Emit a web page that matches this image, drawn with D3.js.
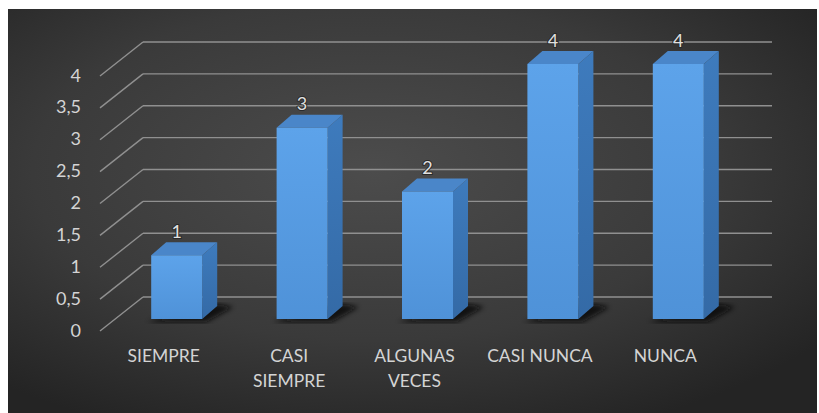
<!DOCTYPE html>
<html><head><meta charset="utf-8">
<script src="https://cdn.jsdelivr.net/npm/d3@7"></script>
<style>html,body{margin:0;padding:0;background:#fff;}svg{display:block;}</style>
</head><body>
<svg id="c" width="819" height="413"></svg>
<script>
const categories = ["SIEMPRE", "CASI SIEMPRE", "ALGUNAS VECES", "CASI NUNCA", "NUNCA"];
const labelLines = [["SIEMPRE"], ["CASI", "SIEMPRE"], ["ALGUNAS", "VECES"], ["CASI NUNCA"], ["NUNCA"]];
const values = [1, 3, 2, 4, 4];
const yTicks = [0, 0.5, 1, 1.5, 2, 2.5, 3, 3.5, 4];
const yTickLabels = ["0", "0,5", "1", "1,5", "2", "2,5", "3", "3,5", "4"];

const svg = d3.select("#c");
const defs = svg.append("defs");
const rg = defs.append("radialGradient").attr("id", "bg").attr("cx", "0.45").attr("cy", "0.4").attr("r", "0.7");
rg.append("stop").attr("offset", "0").attr("stop-color", "#4c4c4c");
rg.append("stop").attr("offset", "0.6").attr("stop-color", "#3a3a3a");
rg.append("stop").attr("offset", "1").attr("stop-color", "#242424");
const fg = defs.append("linearGradient").attr("id", "front").attr("x1", 0).attr("y1", 0).attr("x2", 0).attr("y2", 1);
fg.append("stop").attr("offset", "0").attr("stop-color", "#5da3ea");
fg.append("stop").attr("offset", "1").attr("stop-color", "#4f92d8");
const sg = defs.append("linearGradient").attr("id", "side").attr("x1", 0).attr("y1", 0).attr("x2", 0).attr("y2", 1);
sg.append("stop").attr("offset", "0").attr("stop-color", "#3e7bbd");
sg.append("stop").attr("offset", "1").attr("stop-color", "#346aa6");
defs.append("filter").attr("id", "blur").append("feGaussianBlur").attr("stdDeviation", 2.5);

svg.append("rect").attr("x", 8).attr("y", 9).attr("width", 809).attr("height", 404).attr("fill", "url(#bg)");

const y = d3.scaleLinear().domain([0, 4]).range([319, 64]);
const x = d3.scaleBand().domain(categories).range([114, 741]);
const backShift = 22, sideDX = 43, sideDY = 34;
const wallLeft = 143, wallRight = 772;
const depthX = 15, depthY = 13, barW = 51;

// gridlines
const grid = svg.append("g").attr("stroke", "#909090").attr("stroke-width", 1.4).attr("fill", "none");
yTicks.forEach(v => {
  const yb = y(v) - backShift;
  grid.append("line").attr("x1", wallLeft).attr("x2", wallRight).attr("y1", yb).attr("y2", yb);
  grid.append("line").attr("x1", wallLeft - sideDX).attr("y1", yb + sideDY).attr("x2", wallLeft).attr("y2", yb);
});

// tick labels
svg.append("g").selectAll("text").data(yTicks).join("text")
  .attr("x", 81).attr("y", v => y(v) - backShift + sideDY + 1)
  .attr("text-anchor", "end").attr("dominant-baseline", "middle")
  .attr("font-family", "Lato, 'Open Sans', sans-serif").attr("font-size", 18)
  .attr("fill", "#d4d4d4")
  .text((v, i) => yTickLabels[i]);

// bars
const bars = svg.append("g").selectAll("g").data(categories).join("g");
bars.each(function (c, i) {
  const g = d3.select(this);
  const cx = x(c) + x.bandwidth() / 2;
  const l = cx - barW / 2, r = cx + barW / 2;
  const t = y(values[i]), b = y(0);
  g.append("path").attr("filter", "url(#blur)").attr("fill", "#0a0a0a").attr("opacity", 0.9)
    .attr("d", `M${l - 4},${b + 3} L${r + 4},${b + 3} L${r + depthX + 16},${b - depthY + 1} L${r + depthX},${b - depthY - 2} Z`);
  g.append("path").attr("fill", "url(#side)")
    .attr("d", `M${r},${t} L${r + depthX},${t - depthY} L${r + depthX},${b - depthY} L${r},${b} Z`);
  g.append("path").attr("fill", "#4a86c9")
    .attr("d", `M${l},${t} L${l + depthX},${t - depthY} L${r + depthX},${t - depthY} L${r},${t} Z`);
  g.append("rect").attr("x", l).attr("y", t).attr("width", barW).attr("height", b - t).attr("fill", "url(#front)");
  g.append("text").attr("x", cx).attr("y", t - 22).attr("text-anchor", "middle").attr("dominant-baseline", "middle")
    .attr("font-family", "Lato, 'Open Sans', sans-serif").attr("font-size", 18).attr("fill", "#e0e0e0")
    .attr("stroke", "#2a2a2a").attr("stroke-width", 2).attr("paint-order", "stroke")
    .text(values[i]);
});

// category labels
const cat = svg.append("g").attr("font-family", "Lato, 'Open Sans', sans-serif").attr("font-size", 17.5).attr("fill", "#d4d4d4");
categories.forEach((c, i) => {
  const cx = x(c) + x.bandwidth() / 2 - 13;
  labelLines[i].forEach((ln, j) => {
    cat.append("text").attr("x", cx).attr("y", 358 + j * 25).attr("text-anchor", "middle").attr("dominant-baseline", "middle").text(ln);
  });
});
</script>
</body></html>
